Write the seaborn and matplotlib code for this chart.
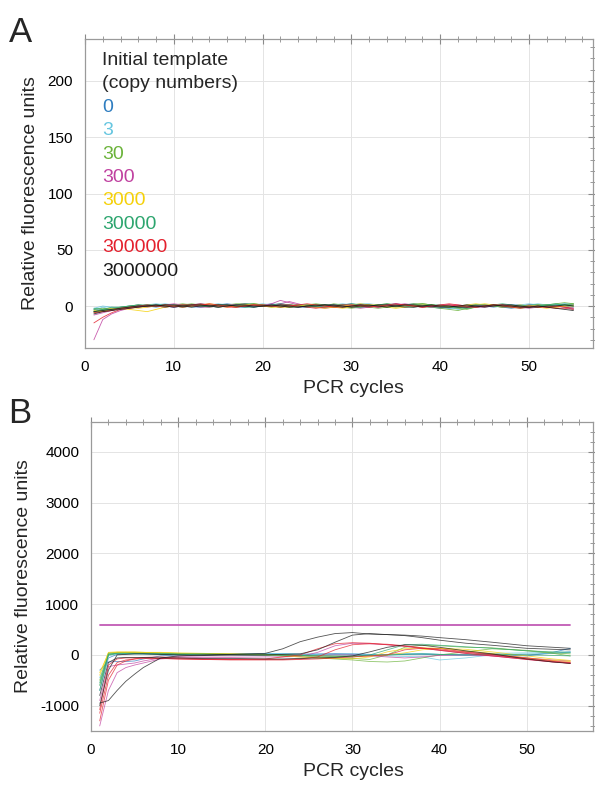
"""
qPCR amplification curves, panel A (raw, low scale) and panel B (high scale)
"""
import matplotlib
matplotlib.use("Agg")
import matplotlib.pyplot as plt
import matplotlib.ticker as mticker
import numpy as np
import pandas as pd
import seaborn as sns

# ─────────────────────────────────────────────────────────────
# Data
# ─────────────────────────────────────────────────────────────

TEMPLATES = ["0", "3", "30", "300", "3000", "30000", "300000", "3000000"]
TEMPLATE_COLORS = ["#2E7DC0", "#66C6E0", "#6BB33A", "#C041A0",
                   "#F5D10A", "#2CA56E", "#E4202D", "#1A1A1A"]

# Panel A: one value per cycle (1..55)
A_0_R1 = [-5, -3, -2, -1, 0, 1, 0, -1, 0, 1, 1, 0, -1, 0, 1, 2, 1, 0, -1, 0,
          1, 1, 0, -1, -1, 0, 1, 0, 1, 2, 1, 0, -1, 0, 1, 1, 2, 1, 0, -1,
          -2, -1, 0, 1, 0, -1, 0, 1, 1, 0, -1, 0, 1, 0, -1]
A_0_R2 = [-3, -4, -2, -2, -1, 0, 1, 1, 0, -1, 0, 1, 2, 1, 0, 0, -1, -1, 0, 1,
          2, 1, 1, 0, -1, 0, 0, 1, 1, 0, -1, -1, 0, 1, 2, 1, 0, 0, -1, -2,
          -1, 0, 1, 1, 0, 0, -1, -2, -1, 0, 1, 1, 0, -1, -3]
A_3_R1 = [-2, 0, -1, -2, -1, 0, 1, 2, 1, 0, -1, 0, 1, 1, 2, 1, 0, -1, 0, 0,
          1, 2, 1, 0, -1, -1, 0, 1, 2, 1, 0, 1, 0, -1, 0, 1, 1, 0, -1, -1,
          -2, -2, -1, 0, 1, 1, 0, 0, 1, 2, 1, 0, 1, 2, 2]
A_3_R2 = [-4, -1, -3, -1, 0, -1, 0, 1, 2, 1, 0, -1, -1, 0, 1, 1, 0, 0, 1, 2,
          1, 0, -1, 0, 1, 0, -1, -1, 0, 1, 2, 2, 1, 0, -1, 0, 1, 0, -1, 0,
          -1, -3, -2, -1, 0, 1, 0, -1, 0, 1, 2, 1, 1, 2, 1]
A_30_R1 = [-3, -2, -3, -1, 0, 1, 0, 0, -1, 0, 1, 2, 1, 0, -1, 0, 1, 1, 2, 1,
           0, 0, -1, 0, 1, 2, 1, 0, -1, -2, -1, 0, 1, 2, 1, 1, 0, -1, -1, -2,
           -3, -4, -2, -1, 0, 1, 0, -1, -2, -1, 0, 1, 2, 3, 2]
A_30_R2 = [-6, -4, -3, -2, -1, 0, 1, 1, 0, 1, 2, 1, 0, -1, 0, 1, 2, 2, 1, 0,
           -1, 0, 1, 1, 0, -1, 0, 2, 1, 0, 0, -1, -2, -1, 0, 1, 2, 2, 1, 0,
           -1, -2, -3, -1, 0, 1, 1, 0, -1, 0, 1, 1, 0, 1, 2]
A_300_R1 = [-30, -12, -7, -4, -2, -1, 0, 1, 0, -1, 0, 1, 1, 0, -1, 0, 1, 2, 1, 0,
            2, 5, 3, 1, 0, -1, 0, 1, 0, -1, -2, -1, 0, 1, 2, 1, 0, -1, 0, 1,
            1, 0, -1, 0, 1, 0, -1, -1, 0, 1, 0, -1, -1, 0, 1]
A_300_R2 = [-8, -6, -4, -2, -1, 0, -1, 0, 1, 2, 1, 0, -1, -1, 0, 1, 1, 0, 0, 1,
            1, 2, 4, 2, 0, -1, -2, -1, 0, 1, 1, 0, -1, 0, 1, 2, 1, 0, -1, 0,
            1, 1, 0, -1, -1, 0, 1, 0, -1, -2, -1, 0, 0, -1, -2]
A_3000_R1 = [-4, -5, -3, -2, -1, -2, -1, 0, 1, 0, -1, 0, 1, 2, 1, 0, -1, 0, 1, 0,
             -1, -1, 0, 1, 0, -1, -2, -1, 0, 1, 2, 1, 0, -1, -2, -1, 0, 1, 1, 0,
             -1, 0, 1, 2, 1, 0, -1, 0, 1, 0, -1, -2, -1, 0, 0]
A_3000_R2 = [-5, -3, -2, -2, -3, -4, -5, -3, -1, 0, 1, 0, 1, 1, 0, -1, 0, 1, 2, 1,
             0, -1, -1, 0, 1, 1, 0, -1, -2, -1, 0, 1, 1, 0, -1, 0, 1, 2, 1, 0,
             0, -1, 0, 1, 2, 1, 0, -1, -1, 0, 1, 0, -1, 0, 1]
A_30000_R1 = [-5, -3, -1, -1, 0, 1, 1, 0, -1, 0, 1, 1, 0, 0, -1, 0, 1, 2, 2, 1,
              0, -1, 0, 1, 1, 0, -1, 0, 1, 2, 1, 0, 0, -1, 0, 1, 1, 2, 1, 0,
              -1, -1, 0, 1, 1, 0, -1, -1, 0, 1, 1, 0, 1, 1, 0]
A_30000_R2 = [-2, -3, -3, -2, -1, 0, 0, 1, 1, 0, -1, 0, 1, 0, 1, 1, 0, -1, -1, 0,
              1, 2, 1, 0, -1, 0, 1, 1, 0, -1, -1, 0, 1, 2, 1, 0, -1, 0, 1, 1,
              0, -1, -2, -1, 0, 1, 2, 1, 0, -1, 0, 1, 2, 1, 1]
A_300000_R1 = [-15, -10, -6, -3, -2, -1, 0, 0, 1, 0, -1, 0, 1, 2, 1, 0, -1, 0, 1, 1,
               0, -1, 0, 1, 2, 1, 0, -1, -1, 0, 1, 0, -1, 0, 1, 1, 0, -1, 0, 1,
               2, 1, 0, -1, 0, 1, 0, -1, -2, -1, 0, -1, -2, -2, -3]
A_300000_R2 = [-6, -5, -4, -2, -1, 0, 1, 0, -1, 0, 1, 1, 2, 1, 0, -1, -1, 0, 1, 0,
               0, 1, 1, 0, -1, -2, -1, 0, 1, 1, 0, -1, 0, 1, 2, 1, 0, -1, 0, 0,
               1, 0, -1, -1, 0, 1, 1, 0, -1, 0, -1, -1, 0, -1, -2]
A_3000000_R1 = [-5, -4, -3, -2, -1, 0, 0, 1, 0, -1, 0, 1, 1, 0, -1, 0, 1, 1, 0, 0,
                1, 0, -1, -1, 0, 1, 1, 0, -1, 0, 1, 1, 0, -1, 0, 1, 1, 0, 0, -1,
                -1, 0, 1, 0, -1, 0, 1, 1, 0, -1, -1, 0, 0, 1, 0]
A_3000000_R2 = [-7, -5, -4, -3, -2, -1, 0, 0, 1, 1, 0, -1, 0, 0, 1, 1, 0, 0, -1, 0,
                0, 1, 0, -1, 0, 0, 1, 1, 0, -1, 0, 0, 1, 1, 0, -1, -1, 0, 1, 0,
                0, -1, -1, 0, 0, 1, 0, 0, -1, -1, 0, -1, -2, -3, -4]

# Panel B: values at these cycles
CYCLES_B = [1, 2, 3, 4, 5, 6, 8, 10, 13, 16, 20, 22, 24, 26, 28, 30, 32, 34, 36,
            38, 40, 43, 46, 50, 53, 55]
B_0_R1 = [-300, -140, -130, -130, -120, -80, -20, 0, 20, 20, 10, 10, 0, 10, 20, 10,
          0, 10, 20, 10, 0, -10, 0, -20, 50, 130]
B_0_R2 = [-700, -60, 10, 20, 20, 20, 10, 10, 0, 10, 20, 20, 10, 20, 20, 20,
          10, 0, 10, 20, 10, 10, 20, 0, 30, 60]
B_3_R1 = [-600, 20, 40, 40, 30, 30, 20, 20, 10, 10, 20, 30, 20, 10, 10, 0,
          -10, -20, -30, -40, -100, -60, 0, 20, 30, 40]
B_3_R2 = [-450, -20, 30, 30, 30, 20, 20, 10, 20, 20, 30, 20, 10, 0, 10, 20,
          10, 0, 20, 30, 10, 0, 30, 40, 50, 60]
B_30_R1 = [-600, 0, 40, 50, 50, 50, 40, 30, 20, 10, 0, -20, -40, -60, -80, -100,
           -130, -140, -120, -60, 0, 60, 120, 90, 40, 20]
B_30_R2 = [-500, 40, 50, 50, 40, 40, 30, 20, 20, 10, 0, -10, -20, -40, -60, -70,
           -90, 0, 150, 190, 180, 150, 140, 80, 30, -20]
B_300_R1 = [-1400, -700, -350, -250, -200, -160, -80, -60, -50, -50, -40, -40, -30, 50,
            180, 230, 220, 200, 170, 130, 90, 30, -20, -90, -140, -160]
B_300_R2 = [-900, -230, -200, -180, -160, -120, -60, -30, -20, -20, -10, -20, -20, -10,
            0, 0, -20, -40, -60, -40, -10, 0, -20, -60, -100, -120]
B_3000_R1 = [-400, 50, 60, 60, 60, 50, 50, 40, 30, 20, 0, -20, -40, -60, -70, -80,
             -40, 60, 120, 140, 130, 80, 30, -60, -110, -130]
B_3000_R2 = [-350, 30, 50, 50, 50, 50, 40, 30, 20, 20, 10, 0, -10, -20, -30, -40,
             -20, 0, 40, 100, 130, 110, 60, -20, -80, -110]
B_30000_R1 = [-700, 20, 30, 30, 30, 30, 30, 20, 20, 10, 10, 0, -10, -20, -30, -40,
              0, 100, 200, 210, 190, 160, 130, 80, 60, 50]
B_30000_R2 = [-550, 0, 20, 20, 20, 20, 10, 10, 0, 0, -10, -10, -10, -20, -20, -20,
              -10, 0, 10, 20, 10, 0, 10, 0, -10, -20]
B_300000_R1 = [-1080, -200, -80, -60, -60, -60, -70, -80, -90, -90, -80, -40, 0, 120,
               220, 240, 230, 200, 170, 130, 90, 30, -20, -90, -140, -160]
B_300000_R2 = [-1300, -500, -200, -120, -80, -50, -40, -60, -80, -90, -90, -90, -80, -40,
               100, 200, 220, 210, 180, 140, 100, 50, 0, -80, -130, -170]
B_300000_R3 = [-1150, -400, -150, -100, -80, -70, -70, -80, -90, -100, -100, -100, -90, -80,
               -60, -40, -20, 0, 100, 130, 120, 60, 10, -60, -120, -150]
B_3000000_R1 = [-950, -900, -700, -520, -380, -250, -60, -20, 0, 10, 30, 120, 260, 350,
                420, 440, 410, 400, 390, 370, 340, 300, 250, 180, 150, 130]
B_3000000_R2 = [-1000, -300, 0, 10, 20, 20, 10, 0, -10, 0, 0, 10, 20, 100,
                250, 390, 420, 400, 380, 340, 290, 230, 190, 130, 110, 100]
B_3000000_R3 = [-800, -150, -60, -50, -50, -50, -60, -60, -70, -70, -80, -80, -70, -60,
                -50, -20, 60, 150, 200, 190, 150, 80, 20, -80, -140, -170]

B_THRESHOLD = 590
THRESHOLD_CYCLES = [1, 55]

# ─────────────────────────────────────────────────────────────
# Long-form tables for seaborn
# ─────────────────────────────────────────────────────────────

A_SERIES = [
    ("0", A_0_R1), ("0", A_0_R2), ("3", A_3_R1), ("3", A_3_R2),
    ("30", A_30_R1), ("30", A_30_R2), ("300", A_300_R1), ("300", A_300_R2),
    ("3000", A_3000_R1), ("3000", A_3000_R2), ("30000", A_30000_R1),
    ("30000", A_30000_R2), ("300000", A_300000_R1), ("300000", A_300000_R2),
    ("3000000", A_3000000_R1), ("3000000", A_3000000_R2),
]
B_SERIES = [
    ("0", B_0_R1), ("0", B_0_R2), ("3", B_3_R1), ("3", B_3_R2),
    ("30", B_30_R1), ("30", B_30_R2), ("300", B_300_R1), ("300", B_300_R2),
    ("3000", B_3000_R1), ("3000", B_3000_R2), ("30000", B_30000_R1),
    ("30000", B_30000_R2), ("300000", B_300000_R1), ("300000", B_300000_R2),
    ("300000", B_300000_R3), ("3000000", B_3000000_R1), ("3000000", B_3000000_R2),
    ("3000000", B_3000000_R3),
]


def _long(series, cycles=None):
    rows = []
    for well, (tmpl, vals) in enumerate(series):
        cyc = cycles if cycles is not None else range(1, len(vals) + 1)
        for c, v in zip(cyc, vals):
            rows.append((well, tmpl, c, v))
    return pd.DataFrame(rows, columns=["well", "template", "cycle", "rfu"])


df_a = _long(A_SERIES)
df_b = _long(B_SERIES, CYCLES_B)
palette = dict(zip(TEMPLATES, TEMPLATE_COLORS))

# ─────────────────────────────────────────────────────────────
# Style
# ─────────────────────────────────────────────────────────────

sns.set_theme(style="whitegrid")
plt.rcParams["font.family"] = ["Liberation Sans", "DejaVu Sans"]
plt.rcParams.update({
    "axes.unicode_minus": False,
    "axes.edgecolor": "#9A9A9A",
    "axes.linewidth": 0.9,
    "grid.color": "#E4E4E4",
    "grid.linewidth": 0.7,
})

W, H = 595, 788
fig = plt.figure(figsize=(W / 100, H / 100), dpi=100)
ax_a = fig.add_axes([85 / W, 1 - 348 / H, 508 / W, 309 / H])
ax_b = fig.add_axes([91 / W, 1 - 731 / H, 502 / W, 309 / H])


def _style(ax, xminor, ymajor, yminor, labelx):
    ax.xaxis.set_major_locator(mticker.MultipleLocator(10))
    ax.xaxis.set_minor_locator(mticker.MultipleLocator(xminor))
    ax.yaxis.set_major_locator(mticker.MultipleLocator(ymajor))
    ax.yaxis.set_minor_locator(mticker.MultipleLocator(yminor))
    ax.tick_params(which="both", direction="inout", top=True, right=True,
                   color="#8A8A8A", labelsize=11, labelcolor="black")
    ax.tick_params(which="major", length=7, width=0.8, pad=5)
    ax.tick_params(which="minor", length=4, width=0.6)
    ax.grid(True, which="major")
    ax.grid(False, which="minor")
    ax.set_xlabel("PCR cycles", fontsize=14, labelpad=8)
    ax.set_ylabel("Relative fluorescence units", fontsize=14, labelpad=6)
    ax.xaxis.set_label_coords(labelx, -0.105)
    for s in ax.spines.values():
        s.set_visible(True)


# Panel A
sns.lineplot(data=df_a, x="cycle", y="rfu", hue="template", units="well",
             estimator=None, palette=palette, hue_order=TEMPLATES,
             linewidth=0.6, alpha=0.85, legend=False, ax=ax_a)
ax_a.set_xlim(0, 57.2)
ax_a.set_ylim(-37.3, 237.3)
_style(ax_a, 2, 50, 10, 0.528)

# Panel B
sns.lineplot(data=df_b, x="cycle", y="rfu", hue="template", units="well",
             estimator=None, palette=palette, hue_order=TEMPLATES,
             linewidth=0.6, alpha=0.75, legend=False, ax=ax_b)
ax_b.plot(THRESHOLD_CYCLES, [B_THRESHOLD] * 2, color="#C25AB5", lw=1.3)
ax_b.set_xlim(0, 57.6)
ax_b.set_ylim(-1500, 4590)
_style(ax_b, 2, 1000, 200, 0.522)

# Legend as coloured text
fig.text(102 / W, 1 - 65 / H, "Initial template", fontsize=14, va="baseline")
fig.text(102 / W, 1 - 88.4 / H, "(copy numbers)", fontsize=14, va="baseline")
for k, (t, c) in enumerate(zip(TEMPLATES, TEMPLATE_COLORS)):
    fig.text(102 / W, 1 - (111.8 + 23.4 * k) / H, t, fontsize=14,
             color=c, va="baseline")

# Panel letters
fig.text(9 / W, 1 - 42 / H, "A", fontsize=25, va="baseline")
fig.text(8 / W, 1 - 423 / H, "B", fontsize=25, va="baseline")

fig.savefig("out.png", dpi=100)
